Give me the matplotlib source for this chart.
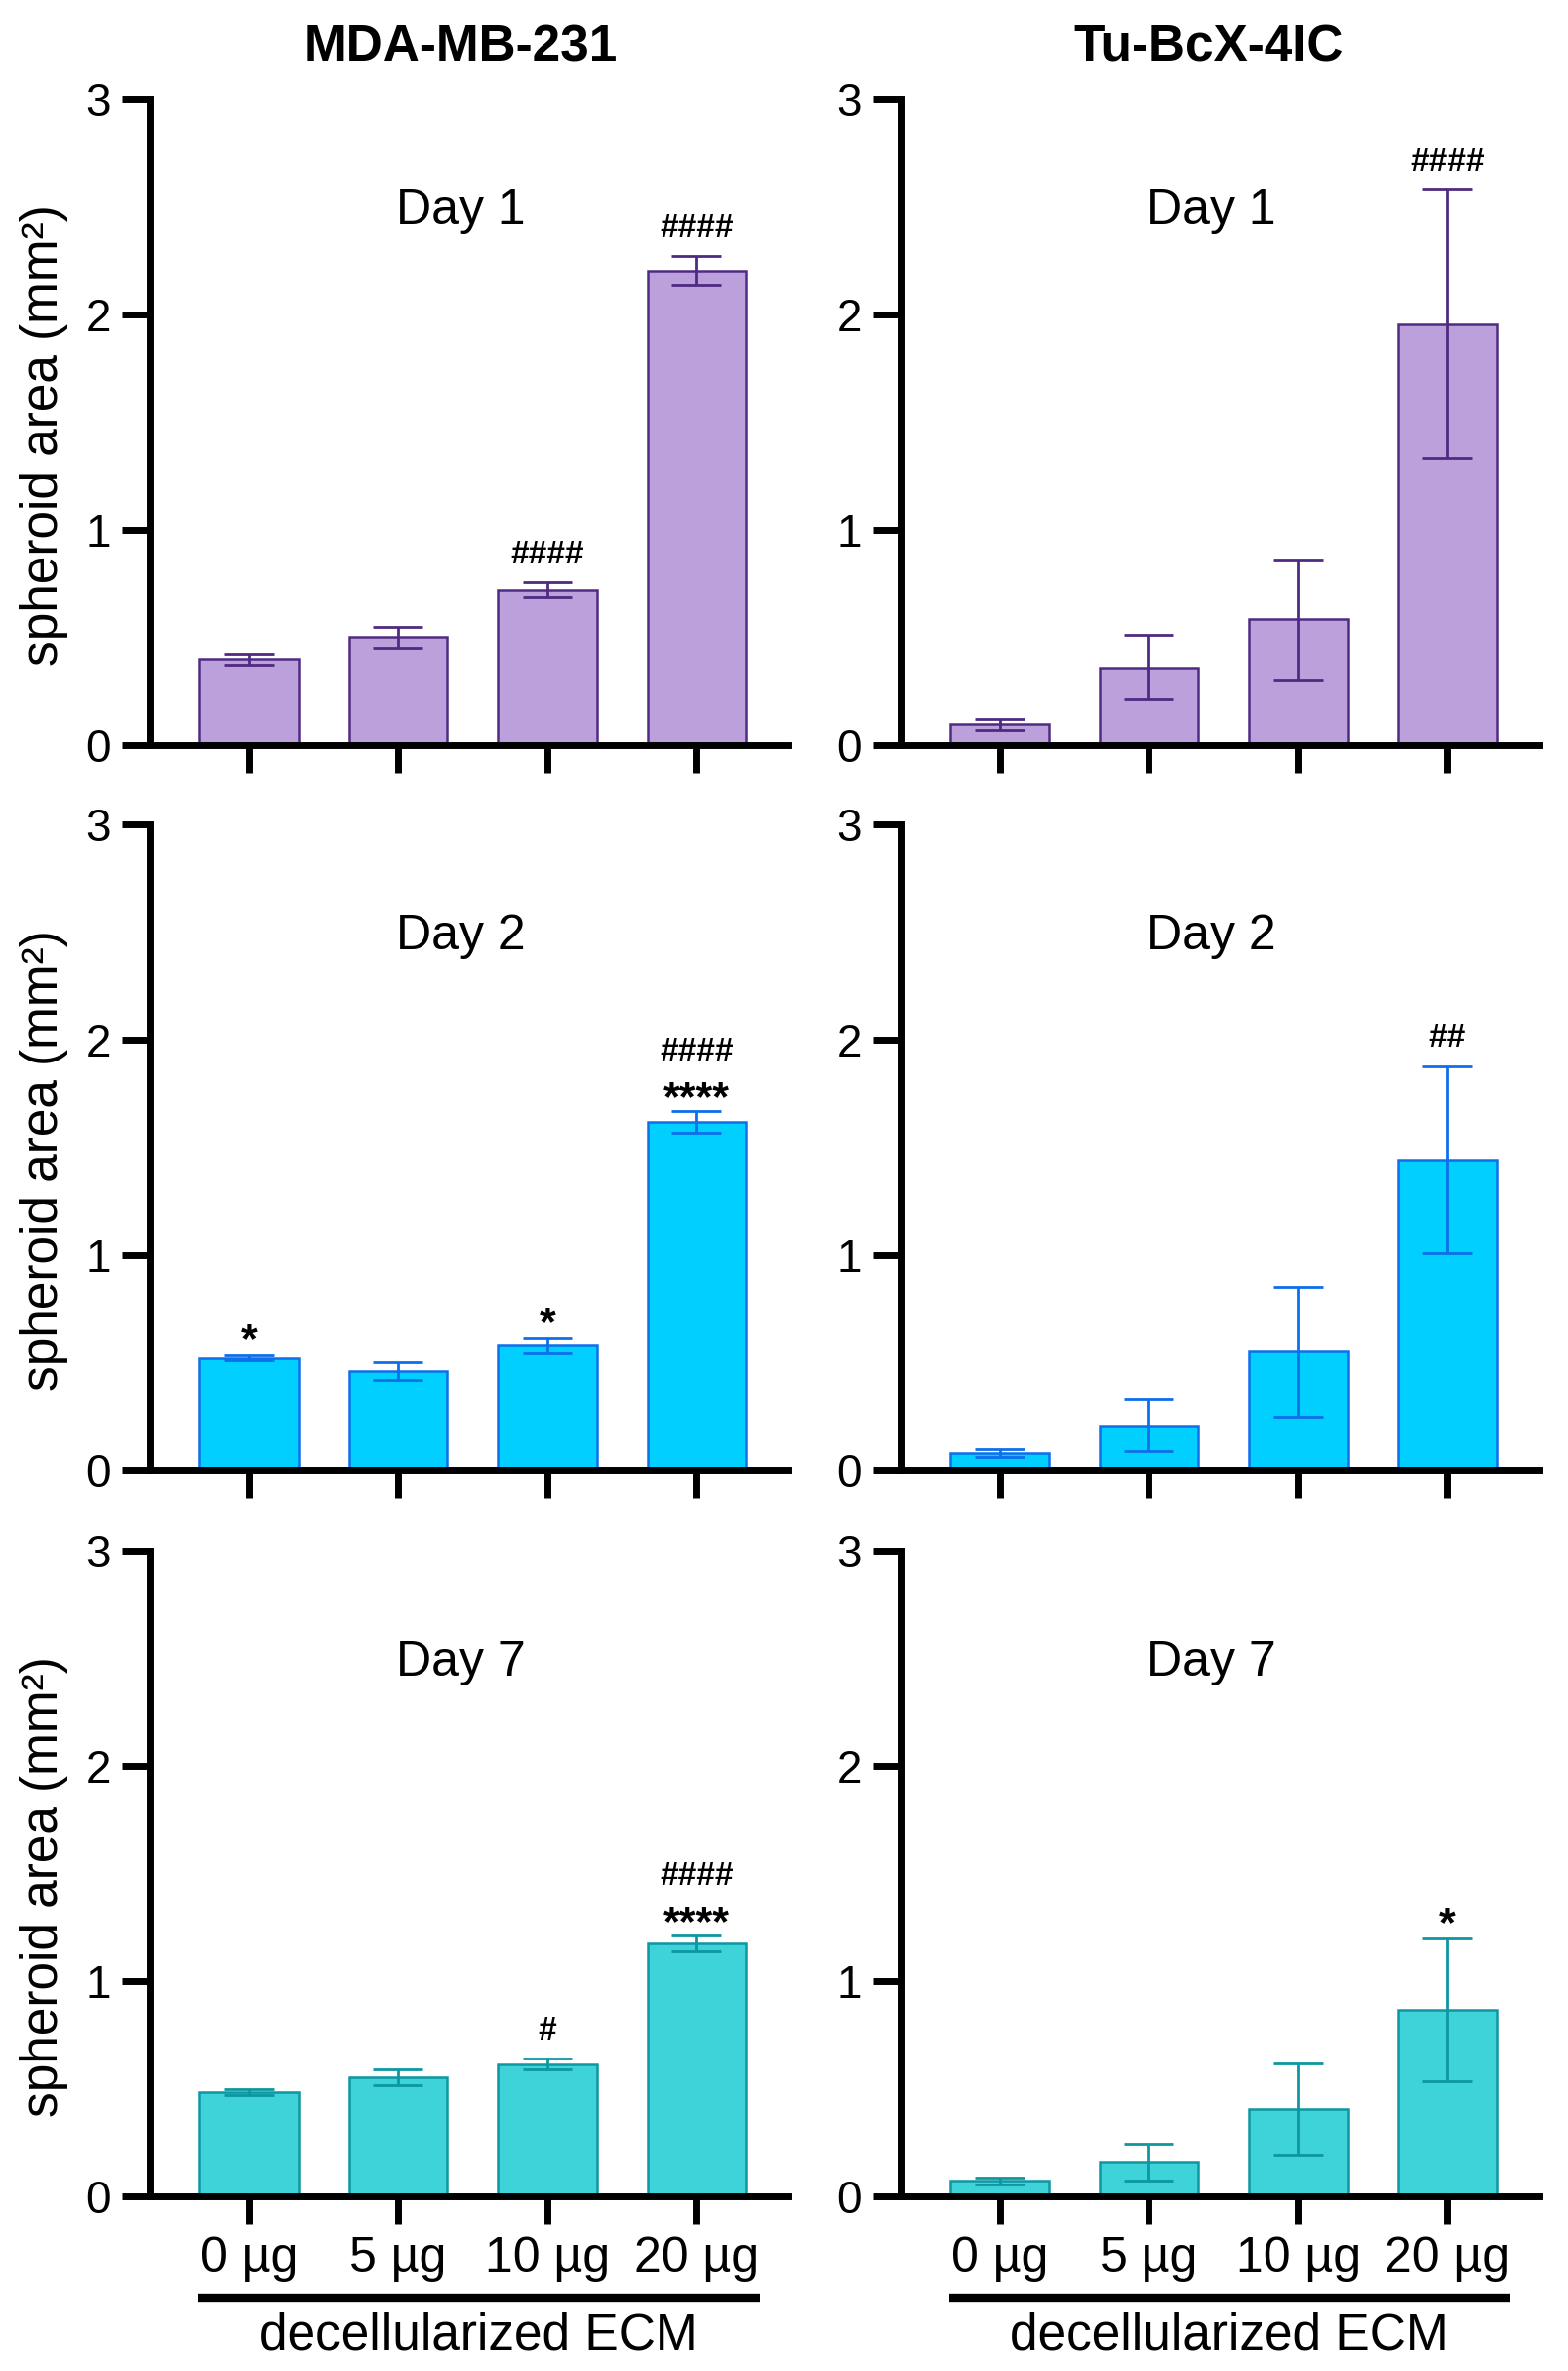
"""Spheroid area vs decellularized ECM dose, two cell lines over three days."""

import matplotlib
matplotlib.use("Agg")
import matplotlib.pyplot as plt

plt.rcParams["font.family"] = ["Liberation Sans", "DejaVu Sans"]

doses = ["0 µg", "5 µg", "10 µg", "20 µg"]
cell_lines = ["MDA-MB-231", "Tu-BcX-4IC"]
days = ["Day 1", "Day 2", "Day 7"]

# mean and error (mm^2)
mda_day1_mean = [0.40, 0.50, 0.72, 2.205]
mda_day1_err = [0.026, 0.048, 0.035, 0.065]
tu_day1_mean = [0.095, 0.36, 0.583, 1.955]
tu_day1_err = [0.025, 0.15, 0.277, 0.625]

mda_day2_mean = [0.523, 0.461, 0.58, 1.617]
mda_day2_err = [0.013, 0.043, 0.035, 0.049]
tu_day2_mean = [0.077, 0.208, 0.552, 1.444]
tu_day2_err = [0.019, 0.122, 0.302, 0.433]

mda_day7_mean = [0.485, 0.553, 0.615, 1.174]
mda_day7_err = [0.014, 0.037, 0.026, 0.036]
tu_day7_mean = [0.072, 0.16, 0.406, 0.866]
tu_day7_err = [0.015, 0.085, 0.212, 0.331]

# significance marks per bar
mda_day1_stars = ["", "", "", ""]
mda_day1_hash = ["", "", "####", "####"]
tu_day1_stars = ["", "", "", ""]
tu_day1_hash = ["", "", "", "####"]
mda_day2_stars = ["*", "", "*", "****"]
mda_day2_hash = ["", "", "", "####"]
tu_day2_stars = ["", "", "", ""]
tu_day2_hash = ["", "", "", "##"]
mda_day7_stars = ["", "", "", "****"]
mda_day7_hash = ["", "", "#", "####"]
tu_day7_stars = ["", "", "", "*"]
tu_day7_hash = ["", "", "", ""]

row_fill = ["#bca0dc", "#00cfff", "#3dd3d9"]
row_edge = ["#4f2a82", "#0d6fea", "#0c97a2"]

panels = [
    [(mda_day1_mean, mda_day1_err, mda_day1_stars, mda_day1_hash),
     (tu_day1_mean, tu_day1_err, tu_day1_stars, tu_day1_hash)],
    [(mda_day2_mean, mda_day2_err, mda_day2_stars, mda_day2_hash),
     (tu_day2_mean, tu_day2_err, tu_day2_stars, tu_day2_hash)],
    [(mda_day7_mean, mda_day7_err, mda_day7_stars, mda_day7_hash),
     (tu_day7_mean, tu_day7_err, tu_day7_stars, tu_day7_hash)],
]

W, H = 1581, 2390
fig = plt.figure(figsize=(W / 100, H / 100), dpi=100)

col_left = [151, 908]
ax_w = 644
row_top = [100, 831, 1563]
ax_h = 651

STAR_FS, HASH_FS = 31, 24

for r in range(3):
    for c in range(2):
        mean, err, stars, hashes = panels[r][c]
        ax = fig.add_axes([col_left[c] / W, 1 - (row_top[r] + ax_h) / H, ax_w / W, ax_h / H])
        x = list(range(len(doses)))
        ax.bar(x, mean, width=0.66, color=row_fill[r], edgecolor=row_edge[r],
               linewidth=1.8, zorder=2)
        ax.errorbar(x, mean, yerr=err, fmt="none", ecolor=row_edge[r],
                    elinewidth=2.0, capsize=18, capthick=2.0, zorder=3)
        for i in x:
            top = mean[i] + err[i]
            if stars[i] and hashes[i]:
                ax.annotate(stars[i], (i, top), xytext=(0, 9), textcoords="offset points",
                            ha="center", va="center", fontsize=STAR_FS, fontweight="bold")
                ax.annotate(hashes[i], (i, top), xytext=(0, 43), textcoords="offset points",
                            ha="center", va="center", fontsize=HASH_FS, fontweight="bold")
            elif stars[i]:
                ax.annotate(stars[i], (i, top), xytext=(0, 10), textcoords="offset points",
                            ha="center", va="center", fontsize=STAR_FS, fontweight="bold")
            elif hashes[i]:
                ax.annotate(hashes[i], (i, top), xytext=(0, 20), textcoords="offset points",
                            ha="center", va="center", fontsize=HASH_FS, fontweight="bold")

        ax.text(1.42, 2.48, days[r], ha="center", va="center", fontsize=36)

        ax.set_xlim(-0.664, 3.615)
        ax.set_ylim(0, 3)
        ax.set_yticks([0, 1, 2, 3])
        ax.set_xticks(x)
        for side in ("top", "right"):
            ax.spines[side].set_visible(False)
        for side in ("left", "bottom"):
            ax.spines[side].set_linewidth(5)
        ax.tick_params(axis="both", length=20, width=5, direction="out", labelsize=33, pad=8)
        if r == 2:
            ax.set_xticklabels(doses, fontsize=36)
            ax.tick_params(axis="x", pad=9)
            ax.plot([-0.34, 3.42], [-0.47, -0.47], color="black", linewidth=6,
                    solid_capstyle="butt", clip_on=False)
            ax.text(1.54, -0.65, "decellularized ECM", ha="center", va="center",
                    fontsize=37, clip_on=False)
        else:
            ax.set_xticklabels([])
        if c == 0:
            ax.set_ylabel("spheroid area (mm²)", fontsize=37)
            ax.yaxis.set_label_coords(-0.128, 0.48)

fig.text(465 / W, 1 - 48 / H, cell_lines[0], ha="center", va="center",
         fontsize=37, fontweight="bold")
fig.text(1219 / W, 1 - 48 / H, cell_lines[1], ha="center", va="center",
         fontsize=37, fontweight="bold")

fig.savefig("out.png", dpi=100)
